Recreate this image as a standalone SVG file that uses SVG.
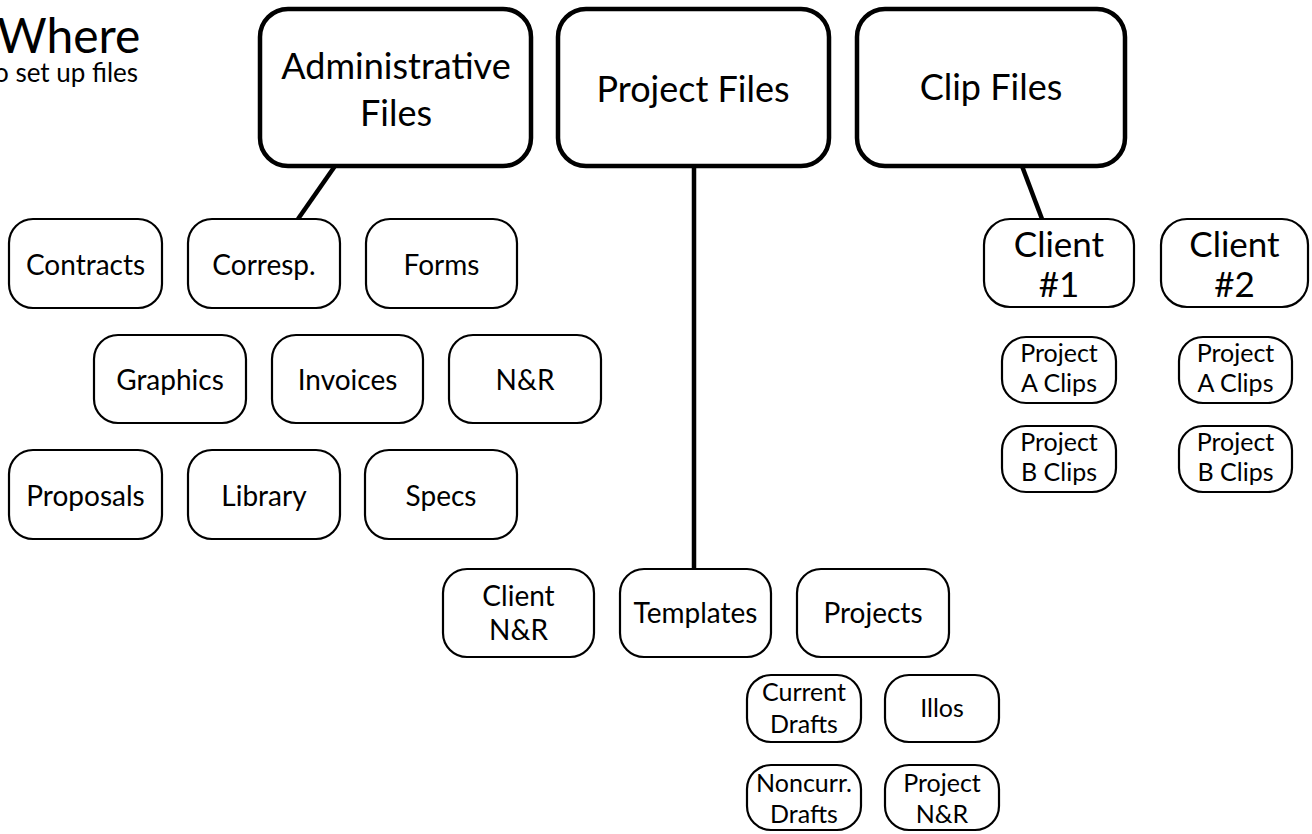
<svg xmlns="http://www.w3.org/2000/svg" width="1312" height="834" viewBox="0 0 1312 834">
<style>
  .big { fill: #fff; stroke: #000; stroke-width: 4.5; }
  .box { fill: #fff; stroke: #000; stroke-width: 2.2; }
  .t { font-family: Lato, "Open Sans", "Liberation Sans", sans-serif; fill: #000; text-anchor: middle; }
  .tb { font-size: 36px; }
  .ts { font-size: 28px; }
  .tc { font-size: 35px; }
  .tx { font-size: 25px; }
  .conn { stroke: #000; stroke-width: 4.5; fill: none; }
</style>
<rect width="1312" height="834" fill="#fff"/>
<g id="title">
  <text x="-3" y="53" style="font-family: Lato, sans-serif; font-size: 48px;">Where</text>
  <text x="-6" y="82" style="font-family: Lato, sans-serif; font-size: 26px;">o set up files</text>
</g>
<g id="connectors">
  <line class="conn" x1="335" y1="166" x2="298" y2="219"/>
  <line class="conn" x1="694" y1="166" x2="694" y2="569"/>
  <line class="conn" x1="1022" y1="166" x2="1042" y2="219"/>
</g>
<g id="admin">
  <rect class="big" x="260" y="9" width="271" height="157" rx="28"/>
  <text class="t tb" x="396" y="79">Administrative</text>
  <text class="t tb" x="396" y="126">Files</text>
</g>
<g id="project">
  <rect class="big" x="558" y="9" width="271" height="157" rx="28"/>
  <text class="t tb" x="693" y="102">Project Files</text>
</g>
<g id="clip">
  <rect class="big" x="857" y="9" width="268" height="157" rx="28"/>
  <text class="t tb" x="991" y="100">Clip Files</text>
</g>
<g id="contracts"><rect class="box" x="9" y="219" width="153" height="89" rx="24"/><text class="t ts" x="85.5" y="275">Contracts</text></g>
<g id="corresp"><rect class="box" x="188" y="219" width="152" height="89" rx="24"/><text class="t ts" x="264" y="275">Corresp.</text></g>
<g id="forms"><rect class="box" x="366" y="219" width="151" height="89" rx="24"/><text class="t ts" x="441.5" y="275">Forms</text></g>
<g id="graphics"><rect class="box" x="94" y="335" width="152" height="88" rx="24"/><text class="t ts" x="170" y="390">Graphics</text></g>
<g id="invoices"><rect class="box" x="272" y="335" width="151" height="88" rx="24"/><text class="t ts" x="347.5" y="390">Invoices</text></g>
<g id="nr"><rect class="box" x="449" y="335" width="152" height="88" rx="24"/><text class="t ts" x="525" y="390">N&amp;R</text></g>
<g id="proposals"><rect class="box" x="9" y="450" width="153" height="89" rx="24"/><text class="t ts" x="85.5" y="506">Proposals</text></g>
<g id="library"><rect class="box" x="188" y="450" width="152" height="89" rx="24"/><text class="t ts" x="264" y="506">Library</text></g>
<g id="specs"><rect class="box" x="365" y="450" width="152" height="89" rx="24"/><text class="t ts" x="441" y="506">Specs</text></g>
<g id="client-nr"><rect class="box" x="443" y="569" width="151" height="88" rx="24"/><text class="t ts" x="518.5" y="606">Client</text><text class="t ts" x="518.5" y="640">N&amp;R</text></g>
<g id="templates"><rect class="box" x="620" y="569" width="151" height="88" rx="24"/><text class="t ts" x="695.5" y="623">Templates</text></g>
<g id="projects"><rect class="box" x="797" y="569" width="152" height="88" rx="24"/><text class="t ts" x="873" y="623">Projects</text></g>
<g id="current-drafts"><rect class="box" x="747" y="675" width="114" height="67" rx="24"/><text class="t tx" x="804" y="701">Current</text><text class="t tx" x="804" y="733">Drafts</text></g>
<g id="illos"><rect class="box" x="885" y="675" width="114" height="67" rx="24"/><text class="t tx" x="942" y="717">Illos</text></g>
<g id="noncurr-drafts"><rect class="box" x="747" y="765" width="114" height="65" rx="24"/><text class="t tx" x="804" y="792">Noncurr.</text><text class="t tx" x="804" y="823">Drafts</text></g>
<g id="project-nr"><rect class="box" x="885" y="765" width="114" height="65" rx="24"/><text class="t tx" x="942" y="792">Project</text><text class="t tx" x="942" y="823">N&amp;R</text></g>
<g id="client1"><rect class="box" x="984" y="219" width="150" height="88" rx="26"/><text class="t tc" x="1059" y="257">Client</text><text class="t tc" x="1059" y="297">#1</text></g>
<g id="client2"><rect class="box" x="1161" y="219" width="147" height="88" rx="26"/><text class="t tc" x="1234.5" y="257">Client</text><text class="t tc" x="1234.5" y="297">#2</text></g>
<g id="c1-a"><rect class="box" x="1002" y="337" width="114" height="66" rx="24"/><text class="t tx" x="1059" y="362">Project</text><text class="t tx" x="1059" y="392">A Clips</text></g>
<g id="c1-b"><rect class="box" x="1002" y="426" width="114" height="66" rx="24"/><text class="t tx" x="1059" y="451">Project</text><text class="t tx" x="1059" y="481">B Clips</text></g>
<g id="c2-a"><rect class="box" x="1179" y="337" width="113" height="66" rx="24"/><text class="t tx" x="1235.5" y="362">Project</text><text class="t tx" x="1235.5" y="392">A Clips</text></g>
<g id="c2-b"><rect class="box" x="1179" y="426" width="113" height="66" rx="24"/><text class="t tx" x="1235.5" y="451">Project</text><text class="t tx" x="1235.5" y="481">B Clips</text></g>
</svg>
